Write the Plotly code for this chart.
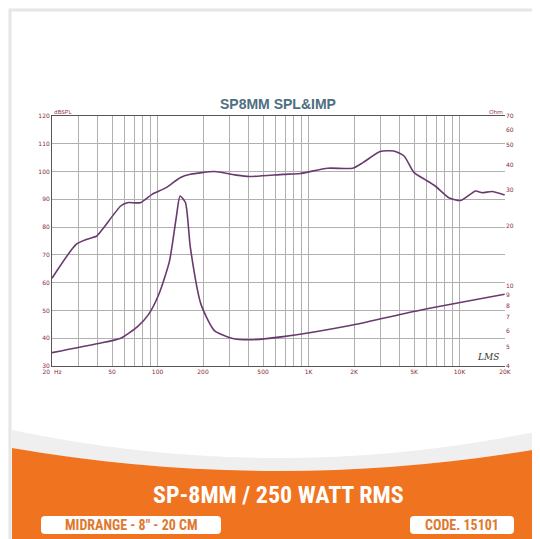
import plotly.graph_objects as go

spl_freq = [20, 28.9, 34, 39.6, 44, 57, 63, 77, 92, 114, 141, 165, 238, 325, 404, 680, 880, 1340, 1960, 2290, 2980, 3670, 4290, 5000, 5880, 6900, 8500, 10200, 12760, 14100, 16400, 19900]
spl_db = [61.6, 73.8, 75.6, 76.8, 79.8, 87.6, 88.8, 88.8, 91.8, 94.2, 97.8, 99, 100, 98.8, 98.2, 99, 99.3, 101.2, 101.2, 103.2, 107.2, 107.4, 105.6, 99.6, 97.2, 94.8, 90.6, 89.6, 93, 92.4, 92.8, 91.6]
imp_freq = [20, 39.6, 57, 74, 87, 102, 120, 133, 141, 153, 165, 194, 238, 310, 404, 680, 1960, 5560, 19900]
imp_ohm = [4.66, 5.16, 5.5, 6.3, 7.2, 9.1, 13.3, 21.9, 28, 26, 15.5, 8.1, 6.0, 5.5, 5.4, 5.6, 6.4, 7.6, 9.1]

x_grid = [20, 30, 40, 50, 60, 70, 80, 90, 100, 200, 300, 400, 500, 600, 700, 800, 900, 1000,
          2000, 3000, 4000, 5000, 6000, 7000, 8000, 9000, 10000, 20000]
x_labels = {20: "20  Hz", 50: "50", 100: "100", 200: "200", 500: "500", 1000: "1K", 2000: "2K", 5000: "5K", 10000: "10K", 20000: "20K"}
y_ticks = [30, 40, 50, 60, 70, 80, 90, 100, 110, 120]
ohm_ticks = [4, 5, 6, 7, 8, 9, 10, 20, 30, 40, 50, 60, 70]

W, H = 540, 539
L, R, T, B = 44, 43, 108, 181
PW, PH = W - L - R, H - T - B
def px(p): return (p - L) / PW
def py(p): return 1 - (p - T) / PH

fig = go.Figure()
line_col = "#6a3a6e"
fig.add_trace(go.Scatter(x=spl_freq, y=spl_db, mode="lines", line=dict(color=line_col, width=1.6, shape="spline", smoothing=0.6), hoverinfo="skip"))
fig.add_trace(go.Scatter(x=imp_freq, y=imp_ohm, mode="lines", yaxis="y2", line=dict(color=line_col, width=1.6, shape="spline", smoothing=0.6), hoverinfo="skip"))

tickfont = dict(size=6, color="#8a2a3a", family="DejaVu Sans")
fig.update_layout(
    width=W, height=H, showlegend=False,
    paper_bgcolor="white", plot_bgcolor="white",
    margin=dict(l=L, r=R, t=T, b=B),
    xaxis=dict(type="log", range=[1.30103, 4.30103], tickvals=x_grid,
               ticktext=[x_labels.get(v, "") for v in x_grid], tickangle=0,
               showgrid=True, gridcolor="#b0b0b0", gridwidth=0.8, tickfont=tickfont,
               showline=True, linecolor="#555", mirror=True, ticks="", zeroline=False),
    yaxis=dict(range=[30, 120], tickvals=y_ticks, showgrid=True, gridcolor="#b0b0b0",
               tickfont=tickfont, showline=True, linecolor="#555", ticks="", zeroline=False),
    yaxis2=dict(type="log", range=[0.60206, 1.845098], overlaying="y", side="right",
                tickvals=ohm_ticks, ticktext=[str(v) for v in ohm_ticks], showgrid=False,
                tickfont=tickfont, ticks="", zeroline=False),
)

shapes = []
shapes.append(dict(type="rect", xref="paper", yref="paper", x0=px(2), x1=px(538), y0=py(537), y1=py(2),
                   line=dict(color="#e6e6e6", width=3), fillcolor="rgba(0,0,0,0)", layer="below"))
shapes.append(dict(type="path", xref="paper", yref="paper",
                   path=f"M {px(4)} {py(422)} Q {px(270)} {py(478)} {px(536)} {py(422)} L {px(536)} {py(440)} Q {px(270)} {py(486)} {px(4)} {py(440)} Z",
                   fillcolor="#efefef", line=dict(width=0), layer="below"))
shapes.append(dict(type="path", xref="paper", yref="paper",
                   path=f"M {px(4)} {py(440)} Q {px(270)} {py(486)} {px(536)} {py(440)} L {px(536)} {py(534)} L {px(4)} {py(534)} Z",
                   fillcolor="#F07320", line=dict(width=0), layer="below"))
def rrect(x0, y0, x1, y1, r=4):
    X0, X1 = px(x0), px(x1); Y0, Y1 = py(y0), py(y1)
    rx, ry = r / PW, r / PH
    return (f"M {X0+rx} {Y0} L {X1-rx} {Y0} Q {X1} {Y0} {X1} {Y0-ry} L {X1} {Y1+ry} Q {X1} {Y1} {X1-rx} {Y1} "
            f"L {X0+rx} {Y1} Q {X0} {Y1} {X0} {Y1+ry} L {X0} {Y0-ry} Q {X0} {Y0} {X0+rx} {Y0} Z")
shapes.append(dict(type="path", xref="paper", yref="paper", path=rrect(33, 508, 213, 526), fillcolor="white", line=dict(width=0)))
shapes.append(dict(type="path", xref="paper", yref="paper", path=rrect(402, 508, 506, 526), fillcolor="white", line=dict(width=0)))
fig.update_layout(shapes=shapes)

narrow = "Liberation Sans Narrow, Arial Narrow, Roboto Condensed, Roboto, sans-serif"
ann = [
    dict(text="<b>SP8MM SPL&IMP</b>", x=px(270), y=py(96), font=dict(size=14, color="#4d6f80", family="Liberation Sans")),
    dict(text="dBSPL", x=px(44), y=py(104), xanchor="left", font=dict(size=6, color="#8a2a3a")),
    dict(text="Ohm", x=px(497), y=py(104), xanchor="right", font=dict(size=6, color="#8a2a3a")),
    dict(text="<i>LMS</i>", x=px(480), y=py(349), font=dict(size=9, color="#333", family="DejaVu Serif")),
    dict(text="<b>SP-8MM / 250 WATT RMS</b>", x=px(270), y=py(487), font=dict(size=24, color="white", family=narrow)),
    dict(text="<b>MIDRANGE - 8\" - 20 CM</b>", x=px(123), y=py(517), font=dict(size=14, color="#E07830", family=narrow)),
    dict(text="<b>CODE. 15101</b>", x=px(454), y=py(517), font=dict(size=14, color="#E07830", family=narrow)),
]
for a in ann:
    a.update(xref="paper", yref="paper", showarrow=False, xanchor=a.get("xanchor", "center"), yanchor="middle")
fig.update_layout(annotations=ann)

fig.write_html("out.html")
